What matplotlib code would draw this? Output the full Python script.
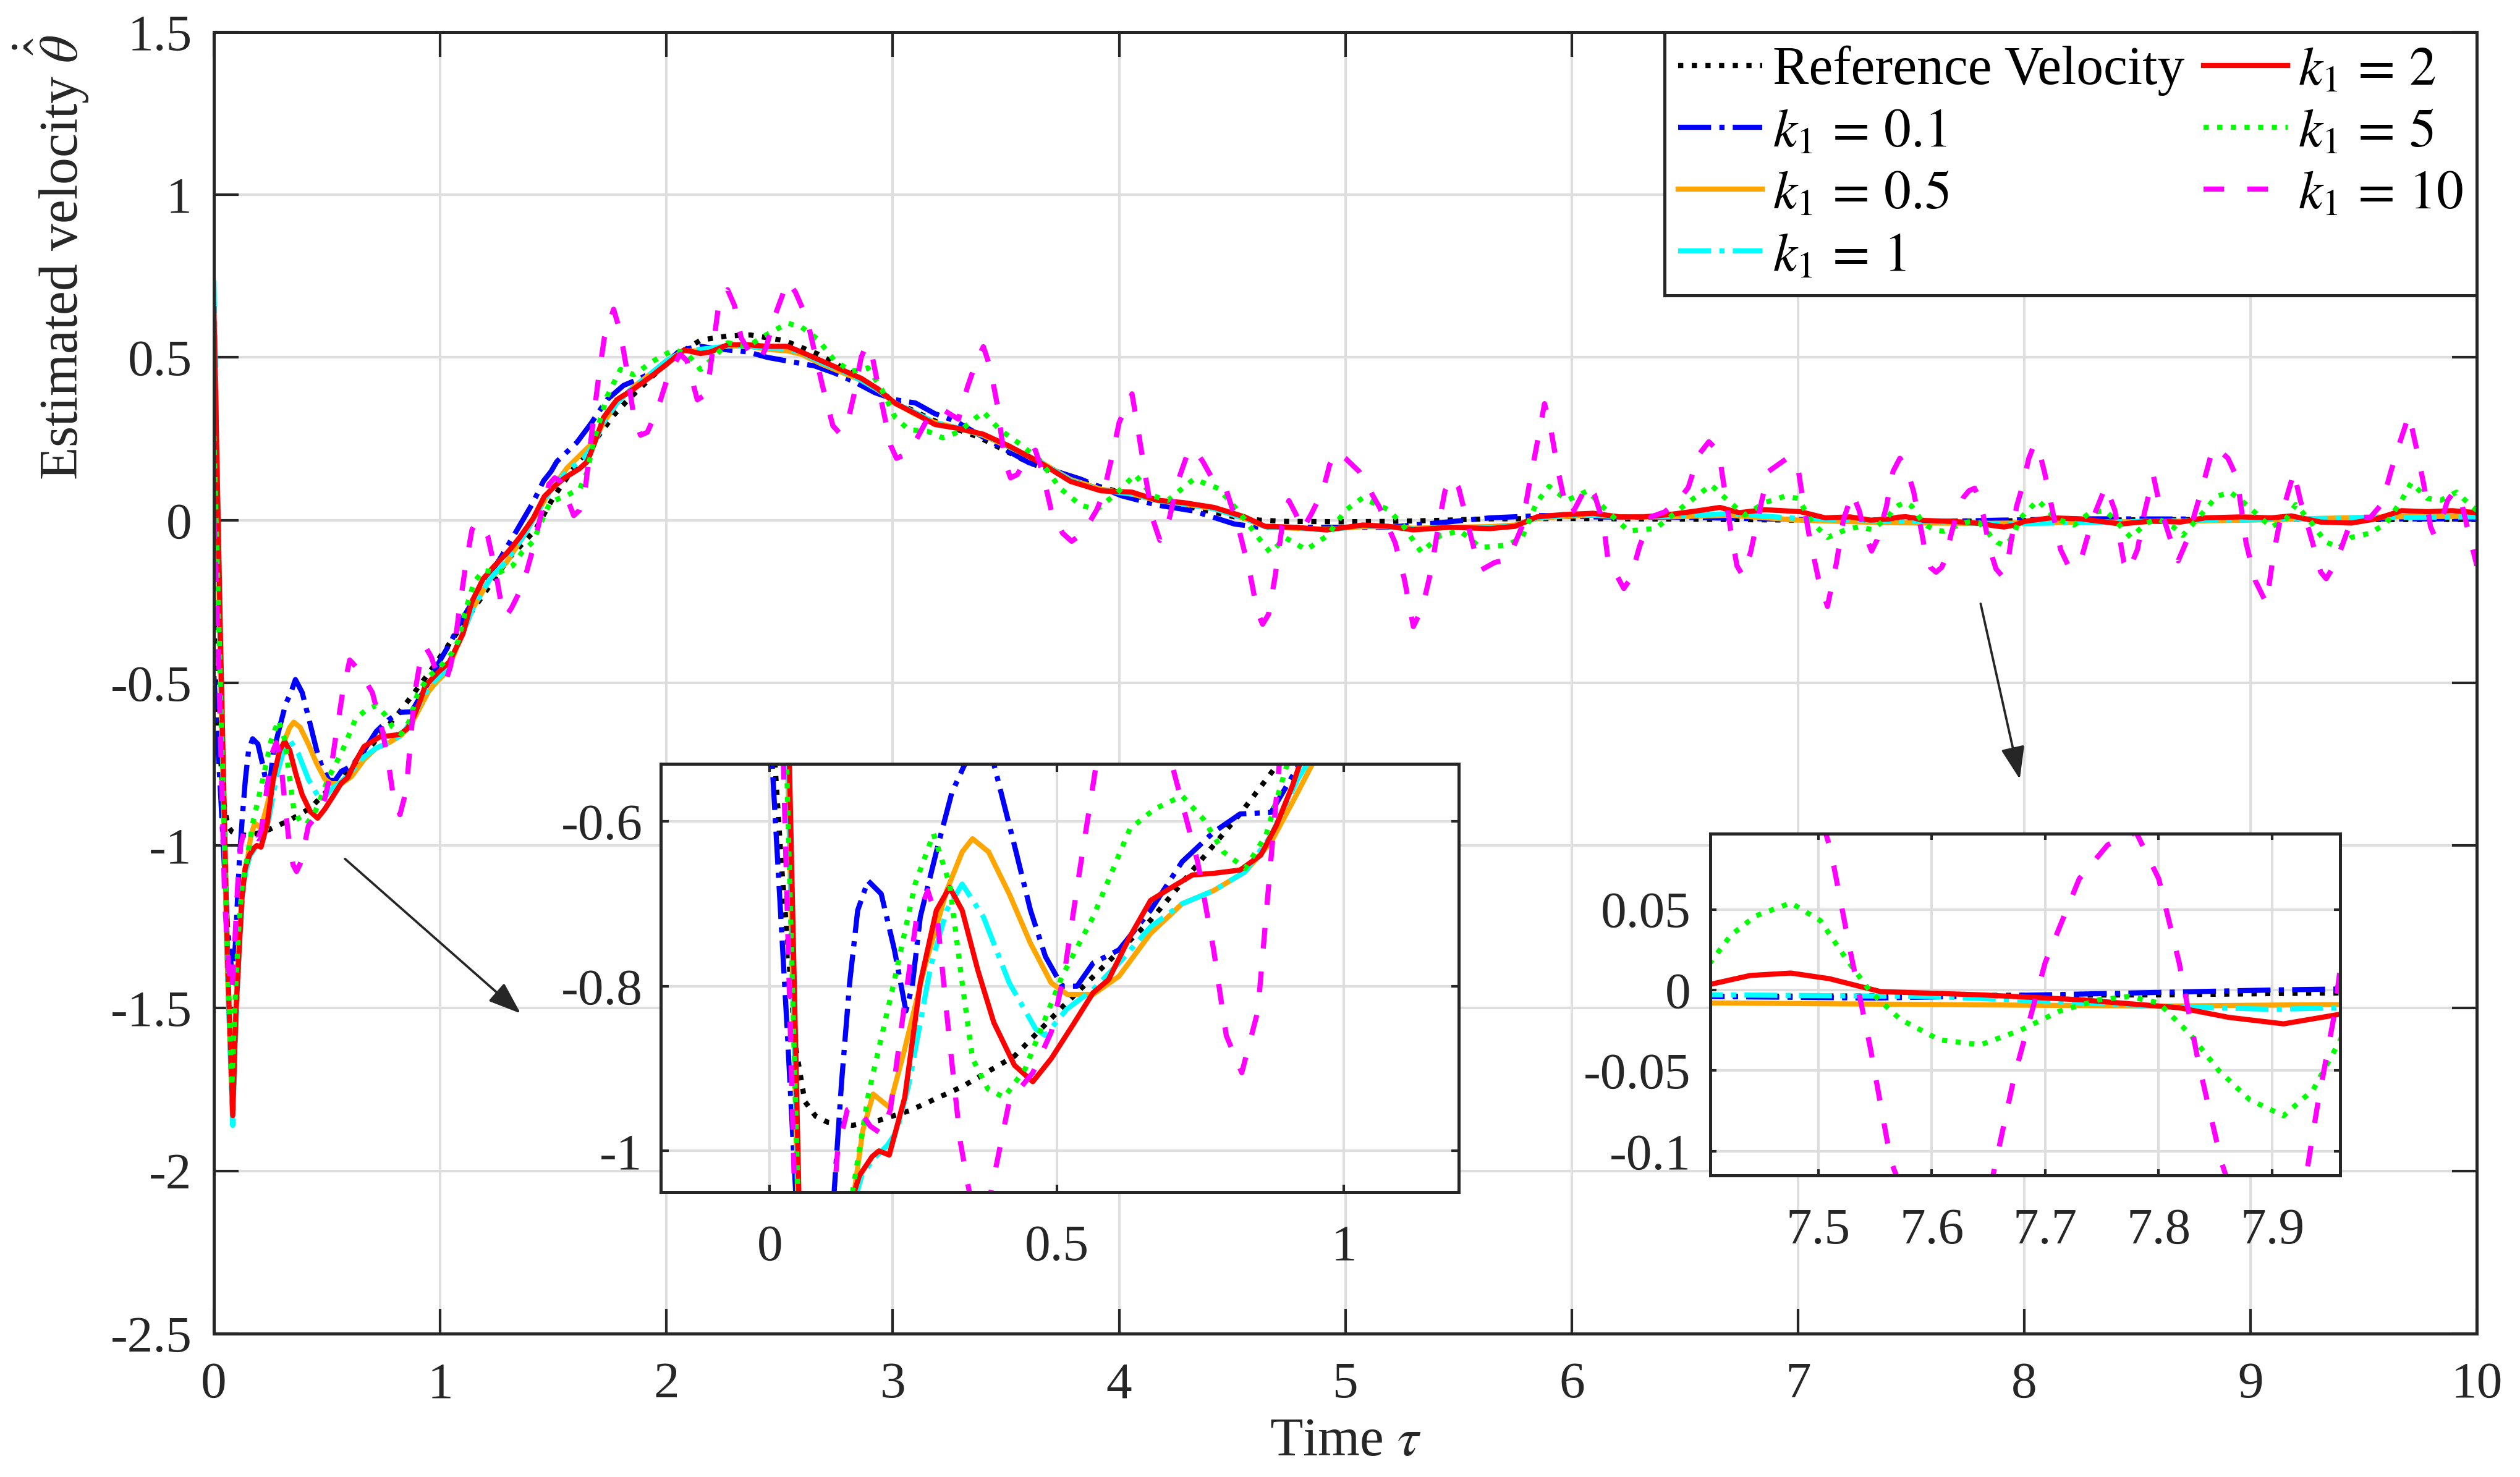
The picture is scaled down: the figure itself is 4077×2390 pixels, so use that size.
import numpy as np
import matplotlib
matplotlib.use('Agg')
import matplotlib.pyplot as plt
from matplotlib.ticker import FuncFormatter

plt.rcParams['font.family'] = ['Liberation Serif', 'DejaVu Serif']
plt.rcParams['mathtext.fontset'] = 'stix'
plt.rcParams['axes.unicode_minus'] = False

# ---------------------------------------------------------------
# values, (time, velocity)
# ---------------------------------------------------------------
ref_pts = [(0, -0.28), (0.009, -0.53), (0.02, -0.65), (0.032, -0.756), (0.044, -0.87), (0.061, -0.94),
           (0.08, -0.958), (0.1, -0.965), (0.144, -0.969), (0.19, -0.963), (0.244, -0.951), (0.335, -0.922),
           (0.426, -0.885), (0.51, -0.825), (0.59, -0.77), (0.663, -0.72), (0.745, -0.652), (0.82, -0.59),
           (0.882, -0.533), (0.95, -0.47), (1.02, -0.40), (1.08, -0.34), (1.2, -0.22), (1.3, -0.12),
           (1.42, -0.03), (1.5, 0.07), (1.6, 0.17), (1.7, 0.26), (1.77, 0.325), (1.83, 0.37), (1.95, 0.45),
           (2.05, 0.51), (2.15, 0.553), (2.27, 0.566), (2.37, 0.569), (2.52, 0.552), (2.67, 0.51),
           (2.8, 0.46), (2.95, 0.39), (3.05, 0.35), (3.2, 0.30), (3.38, 0.255), (3.6, 0.177), (3.83, 0.119),
           (4.06, 0.075), (4.28, 0.046), (4.51, 0.01), (4.62, 0.0), (4.74, -0.004), (5.0, -0.005),
           (5.19, -0.004), (5.4, -0.001), (5.64, 0.004), (6.0, 0.005), (6.5, 0.003), (7.0, 0.0),
           (7.4, -0.004), (7.8, -0.003), (8.2, 0.0), (8.6, 0.001), (9.0, 0.003), (9.5, 0.002), (10.0, 0.002)]

k01_pts = [(0, -0.48), (0.03, -0.85), (0.06, -1.25), (0.083, -1.42), (0.095, -1.3), (0.103, -1.18),
           (0.112, -1.05), (0.125, -0.916), (0.139, -0.796), (0.153, -0.708), (0.171, -0.672), (0.194, -0.688),
           (0.217, -0.756), (0.237, -0.83), (0.248, -0.80), (0.262, -0.716), (0.29, -0.637), (0.317, -0.565),
           (0.34, -0.53), (0.36, -0.49), (0.39, -0.53), (0.426, -0.629), (0.454, -0.708), (0.48, -0.764),
           (0.509, -0.80), (0.535, -0.80), (0.563, -0.772), (0.608, -0.756), (0.663, -0.708), (0.718, -0.649),
           (0.773, -0.613), (0.819, -0.591), (0.873, -0.589), (0.9, -0.557), (0.923, -0.53), (0.97, -0.47),
           (1.0, -0.43), (1.05, -0.37), (1.086, -0.317), (1.19, -0.197), (1.263, -0.12), (1.337, -0.033),
           (1.41, 0.054), (1.456, 0.12), (1.49, 0.15), (1.515, 0.18), (1.604, 0.239), (1.663, 0.294),
           (1.737, 0.37), (1.81, 0.414), (1.885, 0.436), (1.973, 0.468), (2.062, 0.523), (2.15, 0.534),
           (2.27, 0.523), (2.358, 0.517), (2.447, 0.5), (2.565, 0.485), (2.654, 0.474), (2.743, 0.452),
           (2.83, 0.425), (2.92, 0.392), (3.01, 0.37), (3.1, 0.36), (3.186, 0.327), (3.275, 0.305),
           (3.377, 0.264), (3.6, 0.177), (3.83, 0.126), (4.01, 0.075), (4.17, 0.046), (4.33, 0.028),
           (4.51, -0.012), (4.62, -0.022), (4.96, -0.022), (5.19, -0.022), (5.416, -0.008), (5.64, 0.007),
           (5.87, 0.014), (6.1, 0.01), (6.55, 0.008), (7.0, 0.002), (7.4, -0.004), (7.55, -0.005),
           (7.7, -0.003), (7.9, 0.0), (8.3, 0.004), (9.0, 0.003), (10.0, 0.004)]

k05_pts = [(0, 0.55), (0.03, -0.5), (0.06, -1.4), (0.083, -1.8), (0.097, -1.5), (0.11, -1.3), (0.124, -1.15),
           (0.138, -1.07), (0.147, -1.05), (0.162, -0.975), (0.18, -0.931), (0.208, -0.947), (0.235, -0.876),
           (0.27, -0.776), (0.308, -0.684), (0.335, -0.637), (0.353, -0.621), (0.381, -0.637), (0.417, -0.688),
           (0.454, -0.748), (0.49, -0.796), (0.518, -0.81), (0.563, -0.81), (0.608, -0.788), (0.663, -0.736),
           (0.718, -0.70), (0.773, -0.684), (0.828, -0.661), (0.873, -0.625), (0.91, -0.577), (0.946, -0.529),
           (0.98, -0.5), (1.03, -0.465), (1.086, -0.37), (1.145, -0.27), (1.22, -0.18), (1.293, -0.13),
           (1.367, -0.05), (1.426, 0.02), (1.485, 0.09), (1.56, 0.16), (1.633, 0.21), (1.677, 0.24),
           (1.722, 0.30), (1.78, 0.36), (1.855, 0.41), (1.93, 0.45), (2.0, 0.49), (2.077, 0.52), (2.15, 0.52),
           (2.27, 0.535), (2.358, 0.535), (2.447, 0.525), (2.535, 0.52), (2.595, 0.51), (2.683, 0.48),
           (2.772, 0.455), (2.86, 0.43), (2.935, 0.40), (3.01, 0.36), (3.1, 0.325), (3.186, 0.30),
           (3.275, 0.285), (3.4, 0.26), (3.513, 0.225), (3.65, 0.18), (3.785, 0.125), (3.92, 0.095),
           (4.057, 0.08), (4.17, 0.06), (4.283, 0.05), (4.42, 0.035), (4.555, 0.005), (4.645, -0.02),
           (4.78, -0.025), (4.917, -0.028), (5.076, -0.02), (5.19, -0.02), (5.3, -0.025), (5.46, -0.022),
           (5.64, -0.02), (5.75, -0.015), (5.846, 0.005), (5.96, 0.012), (6.095, 0.015), (6.21, 0.01),
           (6.43, 0.01), (6.7, 0.015), (7.0, 0.0), (7.405, -0.008), (7.6, -0.009), (7.8, -0.01),
           (7.96, -0.009), (8.5, -0.005), (9.0, 0.0), (9.6, 0.01), (10.0, 0.012)]

k1_pts = [(0, 0.737), (0.03, -0.45), (0.06, -1.4), (0.083, -1.86), (0.097, -1.55), (0.11, -1.35), (0.124, -1.18),
          (0.14, -1.08), (0.16, -1.03), (0.18, -1.01), (0.205, -0.993), (0.222, -0.975), (0.243, -0.916),
          (0.28, -0.776), (0.308, -0.708), (0.335, -0.676), (0.372, -0.716), (0.417, -0.796), (0.463, -0.852),
          (0.48, -0.86), (0.517, -0.828), (0.563, -0.804), (0.608, -0.772), (0.663, -0.728), (0.718, -0.70),
          (0.773, -0.684), (0.828, -0.661), (0.873, -0.617), (0.919, -0.549), (0.937, -0.529), (0.967, -0.50),
          (1.027, -0.46), (1.086, -0.37), (1.145, -0.27), (1.22, -0.18), (1.293, -0.125), (1.367, -0.05),
          (1.426, 0.02), (1.485, 0.09), (1.56, 0.15), (1.633, 0.19), (1.677, 0.23), (1.722, 0.30),
          (1.78, 0.36), (1.855, 0.41), (1.93, 0.45), (2.0, 0.49), (2.077, 0.52), (2.15, 0.525), (2.27, 0.535),
          (2.358, 0.535), (2.447, 0.53), (2.535, 0.525), (2.595, 0.515), (2.683, 0.485), (2.772, 0.46),
          (2.86, 0.43), (2.935, 0.40), (3.01, 0.36), (3.1, 0.33), (3.186, 0.30), (3.275, 0.285), (3.4, 0.262),
          (3.513, 0.226), (3.65, 0.18), (3.785, 0.122), (3.92, 0.092), (4.057, 0.08), (4.17, 0.06),
          (4.283, 0.05), (4.42, 0.035), (4.555, 0.005), (4.645, -0.02), (4.78, -0.024), (4.917, -0.03),
          (5.076, -0.018), (5.19, -0.02), (5.3, -0.028), (5.46, -0.022), (5.64, -0.024), (5.75, -0.017),
          (5.846, 0.007), (5.96, 0.014), (6.095, 0.017), (6.21, 0.01), (6.43, 0.012), (6.7, 0.02),
          (7.0, 0.005), (7.405, -0.003), (7.6, -0.004), (7.8, -0.01), (7.9, -0.012), (7.96, -0.011),
          (8.5, -0.004), (9.0, 0.002), (9.6, 0.008), (10.0, 0.01)]

k2_pts = [(0, 0.65), (0.03, -0.4), (0.06, -1.35), (0.083, -1.83), (0.097, -1.52), (0.11, -1.34), (0.124, -1.16),
          (0.138, -1.07), (0.156, -1.03), (0.178, -1.007), (0.19, -1.0), (0.208, -1.005), (0.235, -0.935),
          (0.262, -0.796), (0.29, -0.708), (0.313, -0.68), (0.335, -0.708), (0.362, -0.78), (0.39, -0.844),
          (0.426, -0.896), (0.458, -0.916), (0.49, -0.888), (0.527, -0.848), (0.563, -0.808), (0.59, -0.792),
          (0.627, -0.74), (0.663, -0.696), (0.70, -0.68), (0.736, -0.665), (0.773, -0.663), (0.819, -0.659),
          (0.855, -0.641), (0.882, -0.605), (0.91, -0.557), (0.933, -0.51), (0.987, -0.47), (1.04, -0.436),
          (1.1, -0.35), (1.14, -0.25), (1.19, -0.18), (1.24, -0.14), (1.3, -0.097), (1.35, -0.054),
          (1.41, 0.005), (1.46, 0.073), (1.51, 0.107), (1.55, 0.13), (1.615, 0.158), (1.65, 0.18),
          (1.677, 0.228), (1.722, 0.316), (1.78, 0.37), (1.855, 0.403), (1.93, 0.441), (2.0, 0.479),
          (2.077, 0.523), (2.15, 0.512), (2.195, 0.517), (2.27, 0.539), (2.358, 0.539), (2.447, 0.534),
          (2.535, 0.534), (2.595, 0.517), (2.683, 0.49), (2.772, 0.463), (2.86, 0.436), (2.935, 0.403),
          (3.01, 0.359), (3.1, 0.327), (3.186, 0.294), (3.287, 0.282), (3.4, 0.264), (3.513, 0.228),
          (3.65, 0.177), (3.785, 0.119), (3.92, 0.09), (4.057, 0.086), (4.17, 0.061), (4.283, 0.054),
          (4.42, 0.039), (4.555, 0.01), (4.645, -0.019), (4.78, -0.022), (4.917, -0.03), (5.076, -0.015),
          (5.19, -0.019), (5.30, -0.03), (5.46, -0.022), (5.64, -0.026), (5.75, -0.019), (5.846, 0.01),
          (5.96, 0.017), (6.095, 0.021), (6.21, 0.01), (6.32, 0.01), (6.43, 0.017), (6.55, 0.028),
          (6.655, 0.039), (6.74, 0.023), (6.854, 0.032), (7.01, 0.026), (7.12, 0.007), (7.23, 0.01),
          (7.32, 0.0), (7.405, 0.0035), (7.44, 0.009), (7.476, 0.0105), (7.51, 0.007), (7.555, -0.001),
          (7.643, -0.003), (7.73, -0.006), (7.818, -0.011), (7.862, -0.017), (7.91, -0.021), (7.96, -0.015),
          (8.0, -0.004), (8.116, 0.007), (8.25, 0.004), (8.426, -0.012), (8.56, -0.003), (8.69, -0.006),
          (8.80, 0.007), (8.96, 0.01), (9.09, 0.007), (9.18, 0.013), (9.31, -0.006), (9.445, -0.009),
          (9.556, 0.004), (9.667, 0.029), (9.78, 0.026), (9.89, 0.029), (10.0, 0.023)]

k5_pts = [(0, 0.258), (0.03, -0.55), (0.06, -1.35), (0.079, -1.74), (0.095, -1.45), (0.11, -1.25), (0.125, -1.12),
          (0.144, -1.05), (0.172, -0.93), (0.216, -0.796), (0.253, -0.676), (0.285, -0.615), (0.313, -0.676),
          (0.335, -0.796), (0.353, -0.888), (0.38, -0.925), (0.408, -0.935), (0.445, -0.90), (0.509, -0.788),
          (0.563, -0.716), (0.627, -0.609), (0.67, -0.585), (0.718, -0.569), (0.755, -0.597), (0.79, -0.637),
          (0.828, -0.657), (0.864, -0.617), (0.90, -0.533), (0.95, -0.48), (1.0, -0.45), (1.05, -0.41),
          (1.08, -0.37), (1.115, -0.27), (1.15, -0.19), (1.19, -0.155), (1.263, -0.16), (1.32, -0.14),
          (1.36, -0.1), (1.41, -0.066), (1.45, 0.0), (1.485, 0.054), (1.52, 0.065), (1.56, 0.076),
          (1.618, 0.098), (1.65, 0.15), (1.677, 0.24), (1.737, 0.38), (1.796, 0.463), (1.855, 0.447),
          (1.944, 0.49), (2.03, 0.523), (2.09, 0.512), (2.15, 0.463), (2.21, 0.501), (2.27, 0.545),
          (2.358, 0.534), (2.447, 0.572), (2.535, 0.605), (2.595, 0.594), (2.668, 0.556), (2.743, 0.49),
          (2.817, 0.457), (2.89, 0.468), (2.95, 0.403), (3.01, 0.316), (3.07, 0.278), (3.157, 0.272),
          (3.22, 0.253), (3.29, 0.271), (3.40, 0.333), (3.47, 0.279), (3.56, 0.235), (3.65, 0.184),
          (3.74, 0.097), (3.83, 0.046), (3.9, 0.032), (3.99, 0.083), (4.07, 0.14), (4.147, 0.075),
          (4.215, 0.061), (4.33, 0.126), (4.44, 0.097), (4.53, 0.025), (4.6, -0.04), (4.667, -0.099),
          (4.736, -0.055), (4.827, -0.091), (4.92, -0.048), (5.0, 0.03), (5.075, 0.068), (5.19, 0.032),
          (5.257, -0.019), (5.336, -0.099), (5.416, -0.048), (5.506, -0.033), (5.597, -0.084), (5.71, -0.077),
          (5.78, -0.055), (5.845, 0.054), (5.9, 0.104), (5.98, 0.061), (6.07, 0.09), (6.16, 0.025),
          (6.25, -0.033), (6.37, -0.026), (6.5, 0.046), (6.616, 0.108), (6.70, 0.054), (6.765, 0.016),
          (6.854, 0.054), (6.94, 0.073), (7.0, 0.067), (7.064, -0.009), (7.13, -0.053), (7.21, -0.03),
          (7.27, -0.02), (7.33, -0.03), (7.38, 0.0), (7.405, 0.017), (7.423, 0.034), (7.445, 0.046),
          (7.476, 0.054), (7.502, 0.043), (7.524, 0.02), (7.546, -0.001), (7.572, -0.018), (7.607, -0.031),
          (7.643, -0.034), (7.678, -0.025), (7.713, -0.013), (7.748, -0.006), (7.774, -0.004), (7.80, -0.008),
          (7.827, -0.027), (7.853, -0.05), (7.88, -0.068), (7.91, -0.078), (7.936, -0.062), (7.96, -0.031),
          (7.98, 0.004), (8.06, 0.061), (8.14, 0.004), (8.22, -0.015), (8.29, 0.023), (8.36, 0.029),
          (8.43, -0.022), (8.47, -0.053), (8.54, -0.009), (8.59, 0.004), (8.66, -0.022), (8.70, -0.047),
          (8.78, 0.016), (8.85, 0.073), (8.91, 0.086), (8.98, 0.048), (9.05, 0.004), (9.09, -0.022),
          (9.157, 0.004), (9.2, 0.048), (9.27, -0.009), (9.33, -0.066), (9.39, -0.085), (9.445, -0.053),
          (9.53, -0.04), (9.6, -0.009), (9.667, 0.061), (9.71, 0.115), (9.78, 0.067), (9.84, 0.061),
          (9.91, 0.086), (9.977, 0.042), (10.0, 0.03)]

k10_pts = [(0, 0.007), (0.02, -0.43), (0.047, -1.16), (0.065, -1.38), (0.079, -1.45), (0.092, -1.3), (0.105, -1.12),
           (0.118, -1.0), (0.135, -0.95), (0.15, -0.945), (0.175, -0.97), (0.194, -0.979), (0.21, -0.95),
           (0.235, -0.82), (0.255, -0.72), (0.275, -0.684), (0.292, -0.72), (0.312, -0.86), (0.332, -0.99),
           (0.35, -1.06), (0.365, -1.08), (0.385, -1.05), (0.417, -0.94), (0.458, -0.905), (0.49, -0.856),
           (0.513, -0.784), (0.536, -0.676), (0.568, -0.533), (0.60, -0.43), (0.64, -0.46), (0.70, -0.53),
           (0.745, -0.649), (0.773, -0.756), (0.795, -0.86), (0.822, -0.905), (0.85, -0.83), (0.869, -0.676),
           (0.887, -0.533), (0.91, -0.44), (0.935, -0.39), (0.96, -0.42), (0.99, -0.48), (1.024, -0.496),
           (1.045, -0.45), (1.065, -0.38), (1.085, -0.27), (1.11, -0.15), (1.14, -0.03), (1.158, -0.008),
           (1.185, -0.02), (1.21, -0.05), (1.245, -0.16), (1.27, -0.26), (1.29, -0.296), (1.315, -0.27),
           (1.365, -0.2), (1.405, -0.1), (1.45, 0.03), (1.48, 0.11), (1.506, 0.13), (1.53, 0.12), (1.57, 0.05),
           (1.59, 0.014), (1.615, 0.03), (1.64, 0.09), (1.68, 0.33), (1.70, 0.44), (1.725, 0.56), (1.766, 0.648),
           (1.795, 0.58), (1.82, 0.48), (1.855, 0.32), (1.885, 0.261), (1.915, 0.27), (1.96, 0.34), (2.01, 0.45),
           (2.06, 0.51), (2.09, 0.49), (2.136, 0.37), (2.16, 0.38), (2.19, 0.45), (2.23, 0.66), (2.27, 0.708),
           (2.3, 0.66), (2.33, 0.56), (2.38, 0.5), (2.41, 0.49), (2.44, 0.53), (2.48, 0.63), (2.535, 0.735),
           (2.57, 0.70), (2.62, 0.62), (2.69, 0.41), (2.735, 0.29), (2.765, 0.267), (2.8, 0.3), (2.83, 0.39),
           (2.86, 0.5), (2.883, 0.539), (2.91, 0.5), (2.93, 0.43), (2.96, 0.33), (2.99, 0.23), (3.016, 0.19),
           (3.05, 0.2), (3.09, 0.23), (3.16, 0.32), (3.22, 0.34), (3.29, 0.31), (3.33, 0.41), (3.37, 0.49),
           (3.40, 0.533), (3.43, 0.47), (3.46, 0.36), (3.495, 0.18), (3.52, 0.13), (3.55, 0.14), (3.6, 0.2),
           (3.63, 0.215), (3.66, 0.15), (3.7, 0.03), (3.75, -0.04), (3.79, -0.065), (3.84, -0.04), (3.9, 0.03),
           (3.93, 0.08), (3.97, 0.2), (4.0, 0.3), (4.057, 0.388), (4.09, 0.25), (4.12, 0.12), (4.15, 0.0),
           (4.18, -0.062), (4.21, -0.03), (4.26, 0.12), (4.3, 0.2), (4.33, 0.22), (4.37, 0.18), (4.41, 0.13),
           (4.47, 0.1), (4.53, -0.03), (4.58, -0.17), (4.61, -0.28), (4.634, -0.32), (4.66, -0.29),
           (4.69, -0.17), (4.72, -0.02), (4.75, 0.06), (4.78, 0.02), (4.81, -0.03), (4.85, 0.02), (4.9, 0.09),
           (4.93, 0.17), (4.96, 0.21), (5.0, 0.19), (5.06, 0.15), (5.15, 0.04), (5.22, -0.07), (5.26, -0.18),
           (5.30, -0.327), (5.34, -0.27), (5.38, -0.15), (5.41, -0.02), (5.44, 0.09), (5.47, 0.13), (5.5, 0.1),
           (5.54, -0.01), (5.58, -0.12), (5.6, -0.153), (5.66, -0.13), (5.72, -0.12), (5.78, -0.02),
           (5.81, 0.1), (5.84, 0.21), (5.88, 0.358), (5.91, 0.27), (5.94, 0.15), (5.98, 0.02), (6.01, 0.03),
           (6.07, 0.11), (6.1, 0.08), (6.14, -0.01), (6.16, -0.12), (6.23, -0.21), (6.26, -0.18), (6.3, -0.08),
           (6.35, 0.01), (6.41, 0.025), (6.47, 0.06), (6.515, 0.1), (6.56, 0.2), (6.606, 0.241), (6.65, 0.21),
           (6.7, -0.02), (6.73, -0.14), (6.755, -0.17), (6.79, -0.1), (6.84, 0.06), (6.87, 0.15), (6.96, 0.194),
           (7.0, 0.16), (7.02, 0.07), (7.05, -0.05), (7.09, -0.18), (7.13, -0.265), (7.17, -0.13), (7.2, 0.0),
           (7.24, 0.083), (7.27, 0.03), (7.3, -0.05), (7.325, -0.095), (7.35, -0.06), (7.39, 0.04), (7.42, 0.15),
           (7.45, 0.19), (7.48, 0.16), (7.511, 0.087), (7.528, 0.025), (7.546, -0.036), (7.564, -0.106),
           (7.585, -0.145), (7.61, -0.16), (7.635, -0.145), (7.654, -0.115), (7.673, -0.053), (7.70, 0.017),
           (7.73, 0.069), (7.755, 0.09), (7.78, 0.098), (7.80, 0.069), (7.818, 0.017), (7.835, -0.045),
           (7.855, -0.106), (7.875, -0.15), (7.90, -0.17), (7.918, -0.15), (7.93, -0.115), (7.94, -0.071),
           (7.954, -0.018), (7.965, 0.04), (7.99, 0.1), (8.02, 0.19), (8.045, 0.235), (8.07, 0.2), (8.09, 0.145),
           (8.16, -0.09), (8.2, -0.148), (8.255, -0.11), (8.3, 0.0), (8.36, 0.105), (8.4, 0.03), (8.44, -0.13),
           (8.46, -0.158), (8.5, -0.09), (8.53, 0.02), (8.57, 0.137), (8.6, 0.04), (8.66, -0.09), (8.68, -0.125),
           (8.72, -0.06), (8.78, 0.085), (8.825, 0.2), (8.845, 0.225), (8.9, 0.19), (8.94, 0.13), (8.98, -0.07),
           (9.02, -0.185), (9.07, -0.256), (9.1, -0.11), (9.13, 0.0), (9.18, 0.12), (9.19, 0.15), (9.22, 0.06),
           (9.27, -0.06), (9.31, -0.16), (9.334, -0.18), (9.36, -0.15), (9.4, -0.087), (9.44, -0.01),
           (9.48, 0.009), (9.53, 0.009), (9.58, 0.05), (9.62, 0.15), (9.66, 0.24), (9.70, 0.324), (9.73, 0.23),
           (9.765, 0.11), (9.795, -0.02), (9.81, -0.044), (9.835, -0.02), (9.87, 0.06), (9.90, 0.089),
           (9.93, 0.06), (9.96, -0.03), (10.0, -0.14)]

labels = ['Reference Velocity', r'$k_1\,=\,0.1$', r'$k_1\,=\,0.5$', r'$k_1\,=\,1$',
          r'$k_1\,=\,2$', r'$k_1\,=\,5$', r'$k_1\,=\,10$']

all_pts = [ref_pts, k01_pts, k05_pts, k1_pts, k2_pts, k5_pts, k10_pts]
colors = ['k', '#0000ff', '#ffa500', '#00ffff', '#ff0000', '#00ff00', '#ff00ff']
linestyles = [':', '-.', '-', '-.', '-', ':', (0, (4, 4.5))]

dark = '#262626'


def style_axes(ax, ticklen, padx, pady):
    ax.grid(True, color='#dedede', lw=1.0)
    ax.set_axisbelow(True)
    ax.tick_params(direction='in', top=True, right=True, length=ticklen, width=1.0,
                   colors=dark, labelsize=20)
    ax.tick_params(axis='x', pad=padx)
    ax.tick_params(axis='y', pad=pady)
    for s in ax.spines.values():
        s.set_color(dark)
        s.set_linewidth(1.2)
    fmt = FuncFormatter(lambda v, p: '%g' % round(v, 4))
    ax.xaxis.set_major_formatter(fmt)
    ax.yaxis.set_major_formatter(fmt)


def draw_series(ax, with_labels=False):
    for pts, c, ls, lab in zip(all_pts, colors, linestyles, labels):
        arr = np.array(pts)
        ax.plot(arr[:, 0], arr[:, 1], color=c, ls=ls, lw=2.0,
                label=lab if with_labels else None)


fig = plt.figure(figsize=(4077 / 300, 2390 / 300), dpi=300)

# main axes
ax = fig.add_axes([0.0849, 0.0971, 0.898, 0.8812])
draw_series(ax, with_labels=True)
ax.set_xlim(0, 10)
ax.set_ylim(-2.5, 1.5)
ax.set_xticks(np.arange(0, 11, 1))
ax.set_yticks(np.arange(-2.5, 1.51, 0.5))
style_axes(ax, 9.5, 11, 8.5)
ax.set_xlabel(r'Time $\tau$', fontsize=21, color=dark)
ax.xaxis.set_label_coords(0.5, -0.064)
ax.set_ylabel(r'Estimated velocity $\dot{\hat{\theta}}$', fontsize=21, color=dark)
ax.yaxis.set_label_coords(-0.0544, 0.827)

leg = ax.legend(loc='upper right', bbox_to_anchor=(1, 1), ncol=2, fontsize=21,
                frameon=True, fancybox=False, edgecolor=dark, framealpha=1,
                borderaxespad=0, handlelength=1.55, handletextpad=0.2,
                columnspacing=0.35, labelspacing=0.22, borderpad=0.25)
leg.get_frame().set_linewidth(1.2)

# arrows pointing to the zoomed windows
arrow_kw = dict(arrowstyle='-|>,head_length=0.6,head_width=0.22', color=dark, lw=0.9,
                mutation_scale=18, shrinkA=0, shrinkB=0)
ax.annotate('', xy=(1.355, -1.516), xytext=(0.579, -1.041), arrowprops=arrow_kw)
ax.annotate('', xy=(7.98, -0.796), xytext=(7.807, -0.257), arrowprops=arrow_kw)

# inset 1: start of the transient
ax1 = fig.add_axes([0.2622, 0.1929, 0.3167, 0.29])
draw_series(ax1)
ax1.set_xlim(-0.19, 1.2)
ax1.set_ylim(-1.05, -0.53)
ax1.set_xticks([0, 0.5, 1])
ax1.set_yticks([-1, -0.8, -0.6])
style_axes(ax1, 3, 12.5, 7)

# inset 2: steady state ripple
ax2 = fig.add_axes([0.6787, 0.2042, 0.25, 0.2314])
draw_series(ax2)
ax2.set_xlim(7.405, 7.96)
ax2.set_ylim(-0.115, 0.097)
ax2.set_xticks([7.5, 7.6, 7.7, 7.8, 7.9])
ax2.set_yticks([-0.1, -0.05, 0, 0.05])
style_axes(ax2, 2.5, 12.5, 7.5)

fig.savefig('out.png', dpi=300)
